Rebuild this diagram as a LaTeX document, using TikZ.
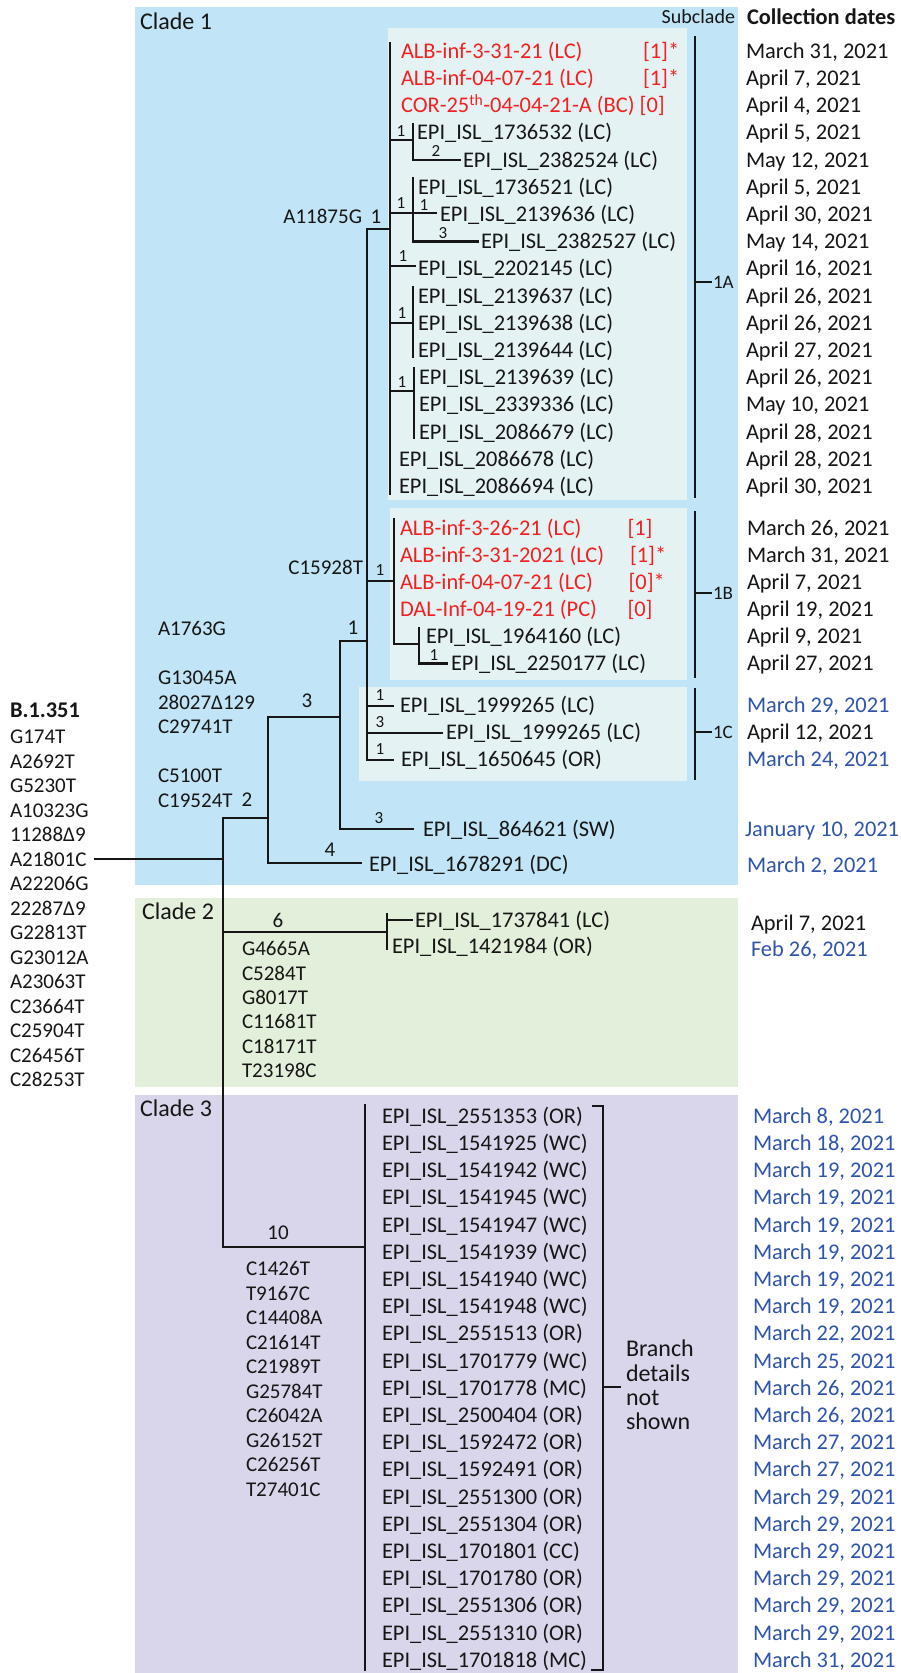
\documentclass[tikz,border=0pt]{standalone}
\usepackage{fontspec}
\setmainfont{Carlito}
\definecolor{cladeA}{RGB}{193,229,247}
\definecolor{subA}{RGB}{228,242,244}
\definecolor{cladeB}{RGB}{226,239,218}
\definecolor{cladeC}{RGB}{217,213,234}
\definecolor{redT}{RGB}{242,32,32}
\definecolor{blueT}{RGB}{47,84,172}
\definecolor{ink}{RGB}{22,22,22}
\newcommand\fsMain{\fontsize{22.4}{27}\selectfont}
\newcommand\fsMut{\fontsize{21}{24.5}\selectfont}
\newcommand\fsLab{\fontsize{17}{20}\selectfont}
\newcommand\fsSm{\fontsize{19}{22}\selectfont}
\newcommand\fsClade{\fontsize{24}{24.3}\selectfont}
\newcommand\fsSub{\fontsize{20}{24}\selectfont}
\begin{document}
\begin{tikzpicture}[x=1pt,y=-1pt,
  every node/.style={inner sep=0pt,outer sep=0pt},
  brline/.style={line width=2.2pt,draw=ink,line cap=rect},
  leaf/.style={anchor=base west,font=\fsMain,text=ink,yshift=-7.2pt},
  rleaf/.style={leaf,text=redT},
  dt/.style={leaf},
  bdt/.style={leaf,text=blueT},
  mut/.style={anchor=base west,font=\fsMut,text=ink,yshift=-6.8pt},
  mutE/.style={mut,anchor=base east},
  blab/.style={anchor=base,font=\fsMut,text=ink,yshift=-6.6pt},
  slab/.style={anchor=base,font=\fsLab,text=ink,yshift=-5.4pt},
  cladelbl/.style={anchor=base west,font=\fsClade,text=ink,yshift=-7.7pt},
  sclbl/.style={anchor=base west,font=\fsSm,text=ink,yshift=-6.1pt}
]
\useasboundingbox (0,0) rectangle (900,1673);
\fill[white] (0,0) rectangle (900,1673);
% ---------- panels
\fill[cladeA] (135,7) rectangle (738,885);
\fill[cladeB] (135,898) rectangle (738,1087);
\fill[cladeC] (135,1095) rectangle (738,1673);
\fill[subA] (388,28) rectangle (687,500);
\fill[subA] (390,508) rectangle (687,680);
\fill[subA] (359,687) rectangle (687,781);
% ---------- headers
\node[cladelbl] (cl1) at (140,22) {Clade 1};
\node[cladelbl] (cl2) at (142,912) {Clade 2};
\node[cladelbl] (cl3) at (140,1109) {Clade 3};
\node[anchor=base east,font=\fsSub,text=ink,yshift=-6.4pt] (subh) at (735,17) {Subclade};
\node[leaf,font=\fsMain\bfseries] (colh) at (747,17) {Collection dates};
% ---------- B.1.351 list
\node[leaf,font=\fsMain\bfseries] (b1351) at (10,710) {B.1.351};
\foreach \m [count=\i from 0] in {G174T,A2692T,G5230T,A10323G,11288Δ9,A21801C,A22206G,22287Δ9,G22813T,G23012A,A23063T,C23664T,C25904T,C26456T,C28253T}
  {\node[mut] (m\i) at (10,{737+24.5*\i}) {\m};}
% ---------- clade 1 mutations
\node[mut] (mA1763) at (158,629) {A1763G};
\node[mut] (mG13045) at (158,678) {G13045A};
\node[mut] (m28027) at (158,702.5) {28027Δ129};
\node[mut] (mC29741) at (158,727) {C29741T};
\node[mut] (mC5100) at (158,776) {C5100T};
\node[mut] (mC19524) at (158,800.5) {C19524T};
\node[mutE] (mA11875) at (362,217) {A11875G};
\node[mutE] (mC15928) at (363,568) {C15928T};
% ---------- clade 2 / 3 mutations
\foreach \m [count=\i from 0] in {G4665A,C5284T,G8017T,C11681T,C18171T,T23198C}
  {\node[mut] (q\i) at (242,{949+24.3*\i}) {\m};}
\foreach \m [count=\i from 0] in {C1426T,T9167C,C14408A,C21614T,C21989T,G25784T,C26042A,G26152T,C26256T,T27401C}
  {\node[mut] (r\i) at (246,{1269+24.5*\i}) {\m};}
% ---------- subclade 1A leaves
\node[rleaf] (a0) at (401,51) {ALB-inf-3-31-21 (LC)};
\node[rleaf] (a0s) at (643,51) {[1]*};
\node[rleaf] (a1) at (401,78.2) {ALB-inf-04-07-21 (LC)};
\node[rleaf] (a1s) at (643,78.2) {[1]*};
\node[rleaf] (a2) at (401,105.4) {COR-25\textsuperscript{th}-04-04-21-A (BC) [0]};
\node[leaf] (a3) at (417,132.6) {EPI\_ISL\_1736532 (LC)};
\node[leaf] (a4) at (463,159.8) {EPI\_ISL\_2382524 (LC)};
\node[leaf] (a5) at (418,187) {EPI\_ISL\_1736521 (LC)};
\node[leaf] (a6) at (440,214.2) {EPI\_ISL\_2139636 (LC)};
\node[leaf] (a7) at (481,241.4) {EPI\_ISL\_2382527 (LC)};
\node[leaf] (a8) at (418,268.6) {EPI\_ISL\_2202145 (LC)};
\node[leaf] (a9) at (418,295.8) {EPI\_ISL\_2139637 (LC)};
\node[leaf] (a10) at (418,323) {EPI\_ISL\_2139638 (LC)};
\node[leaf] (a11) at (418,350.2) {EPI\_ISL\_2139644 (LC)};
\node[leaf] (a12) at (419,377.4) {EPI\_ISL\_2139639 (LC)};
\node[leaf] (a13) at (419,404.6) {EPI\_ISL\_2339336 (LC)};
\node[leaf] (a14) at (419,431.8) {EPI\_ISL\_2086679 (LC)};
\node[leaf] (a15) at (399,459) {EPI\_ISL\_2086678 (LC)};
\node[leaf] (a16) at (399,486.2) {EPI\_ISL\_2086694 (LC)};
% ---------- subclade 1B leaves
\node[rleaf] (b0) at (400,528) {ALB-inf-3-26-21 (LC)};
\node[rleaf] (b0s) at (627.5,528) {[1]};
\node[rleaf] (b1) at (400,555.1) {ALB-inf-3-31-2021 (LC)};
\node[rleaf] (b1s) at (630,555.1) {[1]*};
\node[rleaf] (b2) at (400,582.2) {ALB-inf-04-07-21 (LC)};
\node[rleaf] (b2s) at (628.6,582.2) {[0]*};
\node[rleaf] (b3) at (400,609.3) {DAL-Inf-04-19-21 (PC)};
\node[rleaf] (b3s) at (627.5,609.3) {[0]};
\node[leaf] (b4) at (426,636.4) {EPI\_ISL\_1964160 (LC)};
\node[leaf] (b5) at (451,663.5) {EPI\_ISL\_2250177 (LC)};
% ---------- subclade 1C and others
\node[leaf] (c0) at (400,705) {EPI\_ISL\_1999265 (LC)};
\node[leaf] (c1) at (446,732) {EPI\_ISL\_1999265 (LC)};
\node[leaf] (c2) at (401,759) {EPI\_ISL\_1650645 (OR)};
\node[leaf] (sw) at (423,829) {EPI\_ISL\_864621 (SW)};
\node[leaf] (dc) at (369,864) {EPI\_ISL\_1678291 (DC)};
\node[leaf] (d0) at (415,920) {EPI\_ISL\_1737841 (LC)};
\node[leaf] (d1) at (392,946) {EPI\_ISL\_1421984 (OR)};
\foreach \n/\s [count=\i from 0] in {2551353/OR,1541925/WC,1541942/WC,1541945/WC,1541947/WC,1541939/WC,1541940/WC,1541948/WC,2551513/OR,1701779/WC,1701778/MC,2500404/OR,1592472/OR,1592491/OR,2551300/OR,2551304/OR,1701801/CC,1701780/OR,2551306/OR,2551310/OR,1701818/MC}
  {\node[leaf] (e\i) at (382,{1116+27.2*\i}) {EPI\_ISL\_\n\ (\s)};}
% ---------- dates
\foreach \d [count=\i from 0] in {March 31,April 7,April 4,April 5,May 12,April 5,April 30,May 14,April 16,April 26,April 26,April 27,April 26,May 10,April 28,April 28,April 30}
  {\node[dt] (da\i) at (746,{51+27.2*\i}) {\d, 2021};}
\foreach \d [count=\i from 0] in {March 26,March 31,April 7,April 19,April 9,April 27}
  {\node[dt] (db\i) at (747,{528+27.1*\i}) {\d, 2021};}
\node[bdt] (dc0) at (747,705) {March 29, 2021};
\node[dt] (dc1) at (747,732) {April 12, 2021};
\node[bdt] (dc2) at (747,759) {March 24, 2021};
\node[bdt] (dsw) at (745,829) {January 10, 2021};
\node[bdt] (ddc) at (747,865) {March 2, 2021};
\node[dt] (dd0) at (751,923) {April 7, 2021};
\node[bdt] (dd1) at (751,949) {Feb 26, 2021};
\foreach \d [count=\i from 0] in {8,18,19,19,19,19,19,19,22,25,26,26,27,27,29,29,29,29,29,29,31}
  {\node[bdt] (de\i) at (753,{1116+27.2*\i}) {March \d, 2021};}
% ---------- junction coordinates
\coordinate (rootL) at (95,859);
\coordinate (root) at (223,859);
\coordinate (stTop) at (223,818);
\coordinate (stBot) at (223,1247);
\coordinate (j2) at (223,932);
\coordinate (n2) at (268,818);
\coordinate (n2t) at (268,717);
\coordinate (n2b) at (268,863);
\coordinate (n3t) at (340,641);
\coordinate (n3m) at (340,717);
\coordinate (n3b) at (340,829);
\coordinate (c1m) at (367,641);
\coordinate (c1t) at (367,229);
\coordinate (c1b) at (367,760);
\coordinate (aT) at (390,43);
\coordinate (aJ) at (390,229);
\coordinate (aB) at (390,494);
\coordinate (p1) at (390,140);   \coordinate (q1) at (413,140);
\coordinate (q1t) at (413,124);  \coordinate (q1b) at (413,159.8);
\coordinate (p2) at (390,213);   \coordinate (q2) at (413,213);
\coordinate (q2t) at (413,178);  \coordinate (q2b) at (413,241.4);
\coordinate (p3) at (390,266);
\coordinate (p4) at (390,323);   \coordinate (q4) at (413,323);
\coordinate (q4t) at (413,287);  \coordinate (q4b) at (413,357);
\coordinate (p5) at (390,391);   \coordinate (q5) at (414,391);
\coordinate (q5t) at (414,368);  \coordinate (q5b) at (414,438);
\coordinate (bJ0) at (367,581);  \coordinate (bJ) at (394,581);
\coordinate (bT) at (394,519);   \coordinate (bB) at (394,644);
\coordinate (bK) at (419,644);
\coordinate (bKt) at (419,628);  \coordinate (bKb) at (419,663.5);
\coordinate (cJ0) at (367,706);  \coordinate (cJ2) at (367,733);
\coordinate (gJ) at (387,932);
\coordinate (gT) at (387,914);   \coordinate (gB) at (387,949);
\coordinate (gR) at (387,920);
\coordinate (hJ) at (365,1247);
\coordinate (hT) at (365,1105);  \coordinate (hB) at (365,1670);
% ---------- tree branches
\draw[brline] (rootL) -- (root);
\draw[brline] (stTop) -- (stBot);
\draw[brline] (stTop) -- (n2);
\draw[brline] (n2t) -- (n2b);
\draw[brline] (n2t) -- (n3m);
\draw[brline,shorten >=8pt] (n2b) -- (n2b -| dc.west);
\draw[brline] (n3t) -- (n3b);
\draw[brline] (n3t) -- (c1m);
\draw[brline,shorten >=10pt] (n3b) -- (n3b -| sw.west);
\draw[brline] (c1t) -- (c1b);
\draw[brline] (c1t) -- (aJ);
\draw[brline] (aT) -- (aB);
\draw[brline] (p1) -- (q1);
\draw[brline] (q1t) -- (q1b);
\draw[brline,shorten >=3pt] (q1b) -- (q1b -| a4.west);
\draw[brline] (p2) -- (q2);
\draw[brline] (q2t) -- (q2b);
\draw[brline,shorten >=4pt] (q2) -- (q2 -| a6.west);
\draw[brline,shorten >=3pt] (q2b) -- (q2b -| a7.west);
\draw[brline,shorten >=3pt] (p3) -- (p3 -| a8.west);
\draw[brline] (p4) -- (q4);
\draw[brline] (q4t) -- (q4b);
\draw[brline] (p5) -- (q5);
\draw[brline] (q5t) -- (q5b);
\draw[brline] (bJ0) -- (bJ);
\draw[brline] (bT) -- (bB);
\draw[brline] (bB) -- (bK);
\draw[brline] (bKt) -- (bKb);
\draw[brline,shorten >=4pt] (bKb) -- (bKb -| b5.west);
\draw[brline,shorten >=7pt] (cJ0) -- (cJ0 -| c0.west);
\draw[brline,shorten >=4pt] (cJ2) -- (cJ2 -| c1.west);
\draw[brline,shorten >=8pt] (c1b) -- (c1b -| c2.west);
\draw[brline] (j2) -- (gJ);
\draw[brline] (gT) -- (gB);
\draw[brline,shorten >=3pt] (gR) -- (gR -| d0.west);
\draw[brline] (stBot) -- (hJ);
\draw[brline] (hT) -- (hB);
% ---------- branch labels
\node[blab] (l2) at (247,800) {2};
\node[blab] (l3) at (307,701) {3};
\node[blab] (l4) at (330,850) {4};
\node[blab] (l1c) at (353,628) {1};
\node[blab] (lA) at (376,217) {1};
\node[blab] (l6) at (278,921) {6};
\node[blab] (l10) at (278,1233) {10};
\node[slab] (lsw) at (379,818) {3};
\node[slab] (lB) at (380,570) {1};
\node[slab] (lB2) at (434,655) {1};
\node[slab] (lC0) at (380,695) {1};
\node[slab] (lC1) at (380,722) {3};
\node[slab] (lC2) at (380,749) {1};
\node[slab] (la3) at (401,131) {1};
\node[slab] (la4) at (436,151) {2};
\node[slab] (la5) at (401,203) {1};
\node[slab] (la6) at (424,205) {1};
\node[slab] (la7) at (443,233) {3};
\node[slab] (la8) at (403,256) {1};
\node[slab] (la9) at (402,313) {1};
\node[slab] (la12) at (402,382) {1};
% ---------- subclade brackets
\node[sclbl] (s1A) at (713,282) {1A};
\node[sclbl] (s1B) at (713,593) {1B};
\node[sclbl] (s1C) at (713,732) {1C};
\coordinate (kA1) at (695,37);  \coordinate (kA2) at (695,497); \coordinate (kA) at (695,282);
\coordinate (kB1) at (695,512); \coordinate (kB2) at (695,677); \coordinate (kB) at (695,593);
\coordinate (kC1) at (695,689); \coordinate (kC2) at (695,779); \coordinate (kC) at (695,732);
\draw[brline] (kA1) -- (kA2);
\draw[brline] (kB1) -- (kB2);
\draw[brline] (kC1) -- (kC2);
\draw[brline,shorten >=2pt] (kA) -- (kA -| s1A.west);
\draw[brline,shorten >=2pt] (kB) -- (kB -| s1B.west);
\draw[brline,shorten >=2pt] (kC) -- (kC -| s1C.west);
% ---------- clade 3 bracket
\node[cladelbl] (br1) at (626,1349) {Branch};
\node[cladelbl] (br2) at (626,1373.3) {details};
\node[cladelbl] (br3) at (626,1397.6) {not};
\node[cladelbl] (br4) at (626,1421.9) {shown};
\coordinate (z1) at (592,1106); \coordinate (z2) at (603,1106);
\coordinate (z3) at (603,1670); \coordinate (z4) at (591,1670);
\coordinate (zt) at (603,1387);
\draw[line width=2.2pt,draw=ink] (z1) -- (z2) -- (z3) -- (z4);
\draw[brline,shorten >=6pt] (zt) -- (zt -| br1.west);
\end{tikzpicture}
\end{document}
